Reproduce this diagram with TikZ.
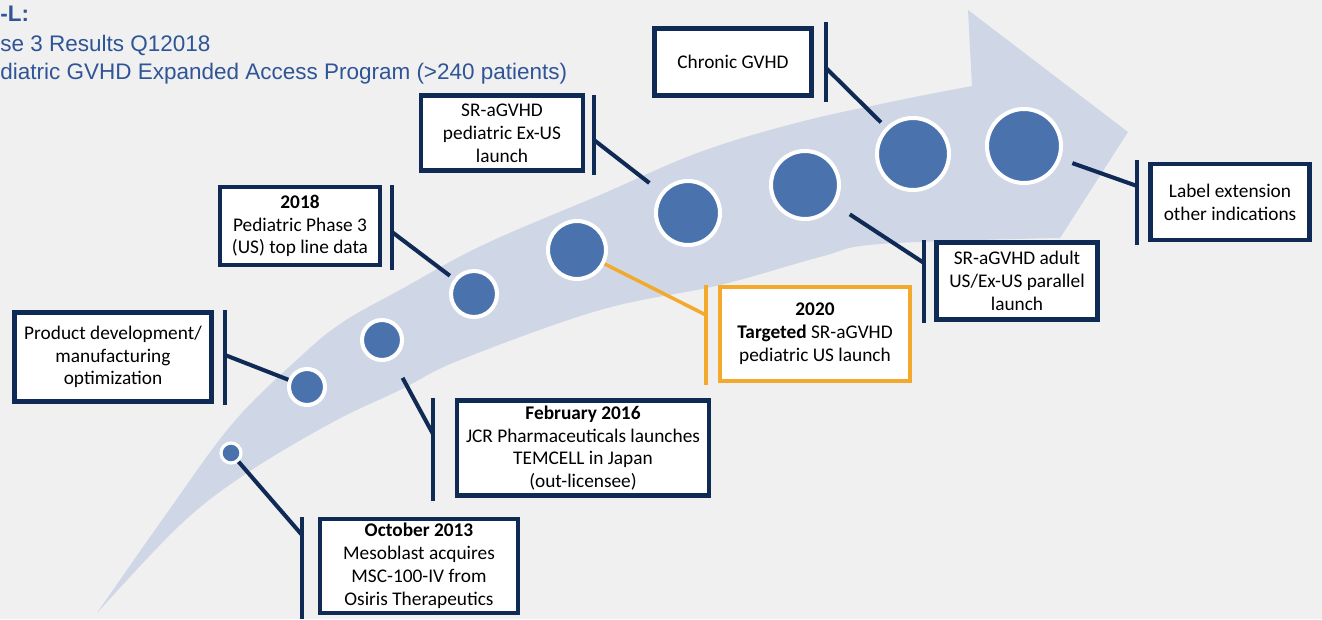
\documentclass[tikz,border=0pt]{standalone}
\usepackage{fontspec}
\setmainfont{Carlito}
\newfontfamily\arialfont{Liberation Sans}
\definecolor{navy}{RGB}{16,42,86}
\definecolor{dotblue}{RGB}{74,114,172}
\definecolor{bandblue}{RGB}{207,214,229}
\definecolor{gold}{RGB}{242,169,44}
\definecolor{headblue}{RGB}{47,85,151}
\definecolor{bggray}{RGB}{240,240,240}
\begin{document}
\begin{tikzpicture}[x=0.02cm,y=-0.02cm,
        box/.style={draw=navy,line width=2.7pt,fill=white,align=center,inner sep=0pt,font=\fontsize{11}{13}\selectfont},
        goldbox/.style={box,draw=gold,line width=2pt},
        dot/.style={circle,fill=dotblue,draw=white,line width=2.3pt,inner sep=0pt},
        bar/.style={navy,line width=2.8pt},
        link/.style={navy,line width=2.3pt},
        head/.style={anchor=base west,inner sep=0pt,text=headblue,font=\arialfont\fontsize{12.8}{15}\selectfont}]
        \useasboundingbox (0,0) rectangle (1322,619);
        \fill[bggray] (0,0) rectangle (1322,619);
        \fill[bandblue] plot[smooth,tension=0.6] coordinates {(97,613) (167,513) (233,423) (300,357) (343,322) (400,290) (483,245) (600,195) (700,152) (800,122) (900,100) (972,86)}
            -- (968,10) -- (1128,132) -- (1060,238)
            -- plot[smooth,tension=0.6] coordinates {(1060,238) (880,244) (820,257) (720,285) (600,310) (460,360) (400,390) (333,422) (247,473) (180,525) (97,613)} -- cycle;
        \node[head] (h1) at (0,21) {\bfseries -L:};
        \node[head] (h2) at (0,51) {se 3 Results Q12018};
        \node[head] (h3) at (0,79) {diatric GVHD Expanded Access Program (>240 patients)};
        \node[dot,minimum size=0.4cm,line width=1.8pt] (c1) at (231,453) {};
        \node[dot,minimum size=0.72cm] (c2) at (307,387) {};
        \node[dot,minimum size=0.8cm] (c3) at (382,340) {};
        \node[dot,minimum size=0.92cm] (c4) at (474,294) {};
        \node[dot,minimum size=1.16cm] (c5) at (577,250) {};
        \node[dot,minimum size=1.28cm] (c6) at (688,213) {};
        \node[dot,minimum size=1.36cm] (c7) at (805,185) {};
        \node[dot,minimum size=1.44cm] (c8) at (913,154) {};
        \node[dot,minimum size=1.48cm] (c9) at (1024,146) {};
        \node[box,minimum width=3.94cm,minimum height=1.78cm] (prod) at (113,357) {Product development/\\manufacturing\\optimization};
        \node[box,minimum width=3.96cm,minimum height=1.88cm] (oct) at (419,566) {\textbf{October 2013}\\Mesoblast acquires\\MSC-100-IV from\\Osiris Therapeutics};
        \node[box,minimum width=5.04cm,minimum height=1.9cm] (feb) at (583,448) {\textbf{February 2016}\\JCR Pharmaceuticals launches\\TEMCELL in Japan\\(out-licensee)};
        \node[box,minimum width=3.2cm,minimum height=1.56cm] (y2018) at (300,226) {\textbf{2018}\\Pediatric Phase 3\\(US) top line data};
        \node[box,minimum width=3.24cm,minimum height=1.5cm] (exus) at (502,133) {SR-aGVHD\\pediatric Ex-US\\launch};
        \node[box,minimum width=3.14cm,minimum height=1.34cm] (chronic) at (733,62) {Chronic GVHD};
        \node[box,minimum width=3.18cm,minimum height=1.52cm] (label) at (1230,202) {Label extension\\other indications};
        \node[box,minimum width=3.22cm,minimum height=1.54cm] (adult) at (1017,281) {SR-aGVHD adult\\US/Ex-US parallel\\launch};
        \node[goldbox,minimum width=3.8cm,minimum height=1.88cm] (y2020) at (815,334) {\textbf{2020}\\\textbf{Targeted} SR-aGVHD\\pediatric US launch};
        \draw[bar] (225,310) -- (225,405);
        \draw[bar] (302,517) -- (302,619);
        \draw[bar] (433,398) -- (433,501);
        \draw[bar] (392,185) -- (392,270);
        \draw[bar] (594,95) -- (594,175);
        \draw[bar] (826,22) -- (826,102);
        \draw[bar] (1137,160) -- (1137,245);
        \draw[bar] (924,240) -- (924,323);
        \draw[bar,gold,line width=2pt] (706,285) -- (706,385);
        \coordinate (kprod) at (225,355);
        \coordinate (koct) at (302,535);
        \coordinate (kfeb) at (433,434);
        \coordinate (k2018) at (392,232);
        \coordinate (kexus) at (594,140);
        \coordinate (kchronic) at (826,68);
        \coordinate (klabel) at (1137,186);
        \coordinate (kadult) at (924,263);
        \coordinate (k2020) at (706,315);
        \draw[link] (kprod) -- (c2);
        \draw[link] (koct) -- (c1);
        \draw[link,shorten >=12pt] (kfeb) -- (c3);
        \draw[link,shorten >=3pt] (k2018) -- (c4);
        \draw[link,shorten >=8.5pt] (kexus) -- (c6);
        \draw[link,shorten >=4pt] (kchronic) -- (c8);
        \draw[link,shorten >=7pt] (klabel) -- (c9);
        \draw[link,shorten >=10pt] (kadult) -- (c7);
        \draw[gold,line width=2pt] (k2020) -- (c5);
\end{tikzpicture}
\end{document}
